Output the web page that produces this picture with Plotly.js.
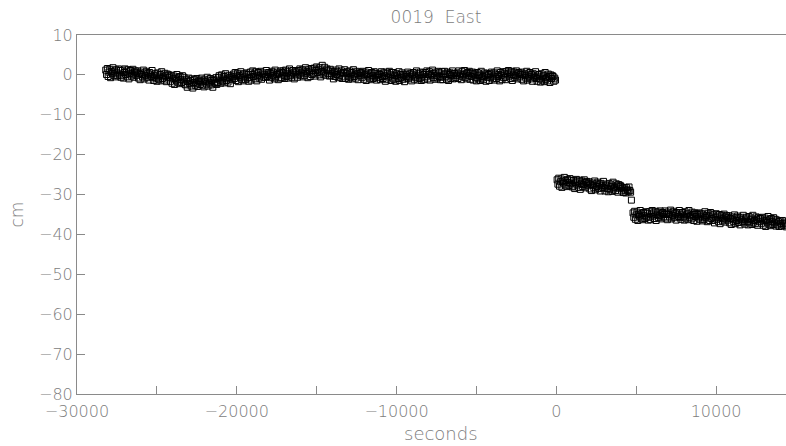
<!DOCTYPE html>
<html>
<head>
<meta charset="utf-8">
<script src="https://cdn.plot.ly/plotly-3.0.1.min.js"></script>
<style>
  html, body { margin: 0; padding: 0; background: #fff; overflow: hidden; }
  #chart { width: 786px; height: 446px; }
</style>
</head>
<body>
<div id="chart"></div>
<script>
// Station 0019, east component (cm), one sample every 50 s.
const sampleStep = 50;

// Before the first offset: starts at -28200 s
const seg1Start = -28200;
const seg1East = [
  1.2, 0.1, 1.6, -0.4, 0.7, 1.4, -0.7, 0.9, 0.4, 1.8, -0.1, 1.0, -0.5, 1.3, 0.5, -0.2, 1.5, 0.2, 1.1, -0.6,
  -0.2, 1.2, -0.8, 0.6, 1.5, 0.1, 0.9, -0.5, 1.3, -1.0, 0.4, 1.1, -0.3, 0.2, 1.4, -0.6, 0.7, 1.0, -0.1, 0.5,
  1.0, -0.8, 0.3, -1.2, 0.7, 0.1, -0.5, 1.2, -1.0, 0.5, -0.2, 0.9, -0.7, 0.4, -1.3, 0.6, 0.0, -0.4, 1.1, -0.6,
  -1.4, -0.1, 0.3, -0.8, -1.6, 0.5, -1.1, -0.3, 0.1, -1.5, 0.8, -0.9, -0.5, -1.3, 0.4, -0.2, -1.7, 0.2, -0.7, 0.0,
  -0.5, -1.6, -0.1, -2.1, -1.0, -0.3, -2.4, -0.8, -1.3, 0.1, -1.8, -0.7, -2.2, -0.4, -1.2, -1.9, -0.2, -1.5, -0.6, -2.3,
  -2.5, -1.1, -3.1, -1.7, -0.8, -2.2, -1.4, -2.8, -1.0, -3.3, -1.9, -1.2, -2.6, -2.1, -0.9, -2.9, -1.6, -1.3, -2.4, -1.8,
  -0.8, -2.6, -1.5, -3.0, -1.1, -1.7, -2.3, -0.6, -2.8, -1.3, -2.0, -0.9, -2.5, -1.4, -3.1, -1.2, -1.8, -2.2, -0.7, -2.4,
  -1.9, -0.6, -0.2, -1.3, -2.1, 0.0, -1.6, -0.8, -0.4, -2.0, 0.3, -1.4, -1.0, -1.8, -0.1, -0.7, -2.2, -0.3, -1.2, -0.5,
  0.2, -0.9, 0.6, -1.4, -0.3, 0.4, -1.7, -0.1, -0.6, 0.8, -1.1, 0.0, -1.5, 0.3, -0.5, -1.2, 0.5, -0.8, 0.1, -1.6,
  -0.7, 0.7, -1.3, 0.1, 1.0, -0.4, 0.4, -1.0, 0.8, -1.5, -0.1, 0.6, -0.8, -0.3, 0.9, -1.1, 0.2, 0.5, -0.6, 0.0,
  -0.6, 1.1, -0.4, 0.0, 0.6, -1.3, 0.4, -0.7, 0.9, -0.2, 0.5, -1.0, 1.2, -0.5, 0.1, 0.7, -1.2, 0.3, -0.8, 1.0,
  -0.7, 0.6, 1.0, -0.1, -0.9, 1.2, -0.4, 0.4, 0.8, -0.8, 1.5, -0.2, 0.2, -0.6, 1.1, 0.5, -1.0, 0.9, 0.0, 0.7,
  -0.6, 1.1, 0.2, 1.5, -0.2, 0.5, 1.3, -0.5, 1.0, -0.1, 1.8, 0.4, 0.9, -0.7, 1.4, 0.7, -0.4, 1.6, 0.1, 1.2,
  0.3, 1.7, -0.3, 1.1, 2.0, 0.6, 1.4, 0.0, 1.8, -0.5, 0.9, 2.4, 0.2, 0.7, 1.9, -0.1, 1.2, 1.5, 0.4, 1.0,
  -0.3, 1.4, -0.1, 0.3, 0.9, -1.0, 0.7, -0.4, 1.2, 0.1, 0.8, -0.7, 1.5, -0.2, 0.4, 1.0, -0.9, 0.6, -0.5, 1.3,
  -0.9, 0.4, 0.8, -0.3, -1.1, 1.0, -0.6, 0.2, 0.6, -1.0, 1.3, -0.4, 0.0, -0.8, 0.9, 0.3, -1.2, 0.7, -0.2, 0.5,
  0.5, -0.6, 0.9, -1.1, 0.0, 0.7, -1.4, 0.2, -0.3, 1.1, -0.8, 0.3, -1.2, 0.6, -0.2, -0.9, 0.8, -0.5, 0.4, -1.3,
  -0.1, -0.7, 0.4, 0.1, -1.2, 0.8, -0.4, -0.9, 0.5, -0.2, -1.6, 0.7, -1.1, 0.3, -0.5, 0.9, 0.0, -1.4, 0.6, -0.8,
  0.6, -1.2, -0.1, -1.6, 0.3, -0.3, -0.9, 0.8, -1.4, 0.1, -0.6, 0.5, -1.1, 0.0, -1.7, 0.2, -0.4, -0.8, 0.7, -1.0,
  0.2, -0.5, 0.4, -1.5, 0.0, 0.6, -1.1, -0.3, -0.7, 1.0, -1.3, 0.3, -0.1, -0.9, 0.7, -1.4, -0.6, 0.5, 0.1, -1.2,
  0.6, -0.5, 1.0, -1.0, 0.1, 0.8, -1.3, 0.3, -0.2, 1.2, -0.7, 0.4, -1.1, 0.7, -0.1, -0.8, 0.9, -0.4, 0.5, -1.2,
  -0.6, 0.8, -1.2, 0.0, 0.9, -0.5, 0.3, -1.1, 0.7, -1.4, 0.1, 0.5, -0.9, -0.2, 1.0, -1.0, 0.3, 0.4, -0.7, -0.1,
  0.5, -0.9, 1.0, -0.3, 0.2, -1.2, 0.8, -0.5, 0.0, 1.1, -0.7, 0.3, -1.0, 0.6, -0.2, 0.9, -1.1, 0.4, -0.4, 0.7,
  -1.3, 0.0, 0.4, -0.7, -1.5, 0.6, -1.0, -0.2, 0.2, -1.4, 0.9, -0.8, -0.4, -1.2, 0.5, -0.1, -1.6, 0.3, -0.6, 0.1,
  -1.4, 0.3, -0.6, 0.7, -1.0, -0.3, 0.5, -1.3, 0.2, -0.9, 1.0, -0.4, 0.1, -1.5, 0.6, -0.1, -1.2, 0.8, -0.7, 0.4,
  -0.6, 0.8, -1.2, 0.2, 1.1, -0.3, 0.5, -0.9, 0.9, -1.4, 0.0, 0.7, -0.7, -0.2, 1.0, -1.0, 0.3, 0.6, -0.5, 0.1,
  0.7, -1.1, 0.0, -1.5, 0.4, -0.2, -0.8, 0.9, -1.3, 0.2, -0.5, 0.6, -1.0, 0.1, -1.6, 0.3, -0.3, -0.7, 0.8, -0.9,
  -1.6, -0.3, 0.1, -1.0, -1.8, 0.3, -1.3, -0.5, -0.1, -1.7, 0.6, -1.1, -0.7, -1.5, 0.2, -0.4, -1.9, 0.0, -0.9, -0.2,
  -0.4, -1.6, -0.8, -1.3
];

// After the first offset: starts at 50 s, the last sample is the lone low point
const seg2Start = 50;
const seg2East = [
  -26.3, -27.4, -25.9, -27.9, -26.8, -26.1, -28.2, -26.6, -27.1, -25.7, -27.6, -26.5, -28.0, -26.2, -27.0, -27.7, -26.0, -27.3, -26.4, -28.1,
  -27.9, -26.5, -28.5, -27.1, -26.2, -27.6, -26.8, -28.2, -26.4, -28.7, -27.3, -26.6, -28.0, -27.5, -26.3, -28.3, -27.0, -26.7, -27.8, -27.2,
  -26.8, -28.6, -27.5, -29.0, -27.1, -27.7, -28.3, -26.6, -28.8, -27.3, -28.0, -26.9, -28.5, -27.4, -29.1, -27.2, -27.8, -28.2, -26.7, -28.4,
  -29.1, -27.8, -27.4, -28.5, -29.3, -27.2, -28.8, -28.0, -27.6, -29.2, -26.9, -28.6, -28.2, -29.0, -27.3, -27.9, -29.4, -27.5, -28.4, -27.7,
  -28.0, -29.1, -28.4, -29.5, -28.2, -28.9, -29.6, -28.3, -28.8, -29.3, -28.1, -29.0, -29.4,
  -31.4
];

// After the second offset: starts at 4800 s
const seg3Start = 4800;
const seg3East = [
  -34.6, -35.7, -34.2, -36.2, -35.1, -34.4, -36.5, -34.9, -35.4, -34.0, -35.9, -34.8, -36.3, -34.5, -35.3, -36.0, -34.3, -35.6, -34.7, -36.4,
  -35.7, -34.3, -36.3, -34.9, -34.0, -35.4, -34.6, -36.0, -34.2, -36.5, -35.1, -34.4, -35.8, -35.3, -34.1, -36.1, -34.8, -34.5, -35.6, -35.0,
  -34.1, -35.9, -34.8, -36.3, -34.4, -35.0, -35.6, -33.9, -36.1, -34.6, -35.3, -34.2, -35.8, -34.7, -36.4, -34.5, -35.1, -35.5, -34.0, -35.7,
  -36.2, -34.9, -34.5, -35.6, -36.4, -34.3, -35.9, -35.1, -34.7, -36.3, -34.0, -35.7, -35.3, -36.1, -34.4, -35.0, -36.5, -34.6, -35.5, -34.8,
  -36.7, -35.0, -35.9, -34.6, -36.3, -35.6, -34.8, -36.6, -35.1, -36.2, -34.3, -35.7, -35.2, -36.8, -34.7, -35.4, -36.5, -34.5, -36.0, -34.9,
  -36.5, -35.1, -37.1, -35.7, -34.8, -36.2, -35.4, -36.8, -35.0, -37.3, -35.9, -35.2, -36.6, -36.1, -34.9, -36.9, -35.6, -35.3, -36.4, -35.8,
  -35.3, -37.1, -36.0, -37.5, -35.6, -36.2, -36.8, -35.1, -37.3, -35.8, -36.5, -35.4, -37.0, -35.9, -37.6, -35.7, -36.3, -36.7, -35.2, -36.9,
  -37.4, -36.1, -35.7, -36.8, -37.6, -35.5, -37.1, -36.3, -35.9, -37.5, -35.2, -36.9, -36.5, -37.3, -35.6, -36.2, -37.7, -35.8, -36.7, -36.0,
  -36.1, -37.2, -35.7, -37.7, -36.6, -35.9, -38.0, -36.4, -36.9, -35.5, -37.4, -36.3, -37.8, -36.0, -36.8, -37.5, -35.8, -37.1, -36.2, -37.9,
  -36.4, -37.6, -36.8, -38.0, -36.6, -37.3, -37.9, -36.5, -37.2, -37.7, -36.9, -37.4, -38.1
];

const xTickVals = [-30000, -25000, -20000, -15000, -10000, -5000, 0, 5000, 10000];
const xTickText = ['\u221230000', '', '\u221220000', '', '\u221210000', '', '0', '', '10000'];
const yTickVals = [10, 0, -10, -20, -30, -40, -50, -60, -70, -80];

function timesFor(start, values) {
  return values.map((_, i) => start + i * sampleStep);
}

const xs = [].concat(
  timesFor(seg1Start, seg1East),
  timesFor(seg2Start, seg2East),
  timesFor(seg3Start, seg3East)
);
const ys = [].concat(seg1East, seg2East, seg3East);

const axisGray = '#8a8a8a';
const family = 'DejaVu Sans, Liberation Sans, sans-serif';
const textGray = '#7c7c7c';
const textFont = { family: family, size: 16, color: textGray, weight: 200 };

const trace = {
  type: 'scatter',
  mode: 'markers',
  x: xs,
  y: ys,
  marker: {
    symbol: 'square-open',
    size: 6,
    color: '#000',
    line: { width: 1 }
  },
  hoverinfo: 'x+y'
};

const layout = {
  width: 786,
  height: 446,
  margin: { l: 77, r: 0, t: 35, b: 52 },
  paper_bgcolor: '#fff',
  plot_bgcolor: '#fff',
  showlegend: false,
  font: textFont,
  title: {
    text: '0019  East',
    font: { family: family, size: 17, color: textGray, weight: 200 },
    x: 436 / 786, xref: 'container', xanchor: 'center',
    y: 1 - 17 / 446, yref: 'container', yanchor: 'middle'
  },
  xaxis: {
    range: [-30000, 14375],
    tickvals: xTickVals,
    ticktext: xTickText,
    ticks: 'inside',
    ticklen: 8,
    tickwidth: 1,
    tickcolor: axisGray,
    ticklabelstandoff: 3,
    showline: true,
    linecolor: axisGray,
    linewidth: 1,
    mirror: true,
    showgrid: false,
    zeroline: false,
    tickfont: textFont
  },
  yaxis: {
    range: [-80, 10],
    tickvals: yTickVals,
    ticks: 'inside',
    ticklen: 8,
    tickwidth: 1,
    tickcolor: axisGray,
    showline: true,
    linecolor: axisGray,
    linewidth: 1,
    showgrid: false,
    zeroline: false,
    tickfont: textFont,
    title: { text: 'cm', font: { family: family, size: 17, color: textGray, weight: 200 }, standoff: 11 }
  },
  // x-axis caption sits at the bottom edge, below the tick labels
  annotations: [{
    text: 'seconds',
    xref: 'paper', yref: 'paper',
    x: 0.513, y: 0,
    xanchor: 'center', yanchor: 'bottom',
    yshift: -52,
    showarrow: false,
    font: { family: family, size: 18, color: textGray, weight: 200 }
  }]
};

Plotly.newPlot('chart', [trace], layout, { displayModeBar: false, staticPlot: true });
</script>
</body>
</html>
